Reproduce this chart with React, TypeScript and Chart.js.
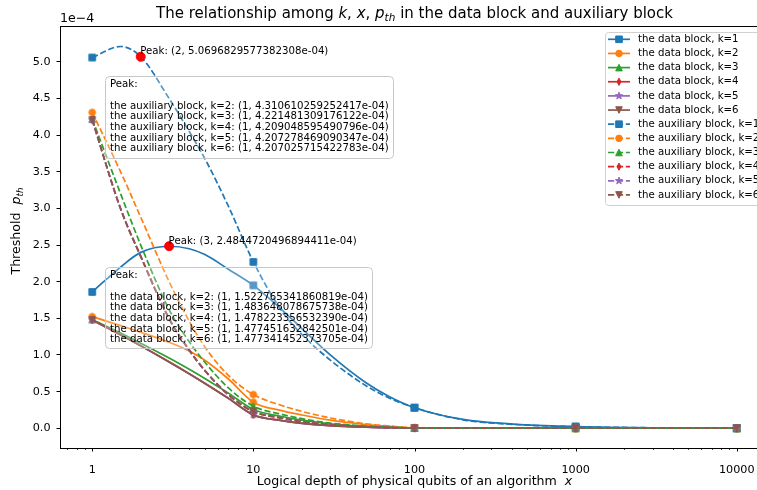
import React, { useEffect, useRef } from 'react';
import { Chart, registerables } from 'chart.js';
Chart.register(...registerables);

// ---- data (values in units of 1e-4) ----
const X = [1, 1.5, 2, 3, 4, 5, 7, 10, 15, 20, 30, 50, 70, 100, 200, 500, 1000, 3000, 10000];

const dataK1 = [1.86, 2.2, 2.4, 2.484, 2.45, 2.37, 2.17, 1.95, 1.62, 1.36, 1.0, 0.62, 0.43, 0.28, 0.12, 0.045, 0.022, 0.006, 0.001];
const dataK2 = [1.523, 1.4, 1.31, 1.173, 1.054, 0.928, 0.672, 0.355, 0.24, 0.18, 0.11, 0.05, 0.025, 0.006, 0.002, 0.0008, 0.0004, 0.0001, 0.0];
const dataK3 = [1.484, 1.299, 1.161, 0.959, 0.806, 0.68, 0.479, 0.256, 0.16, 0.11, 0.06, 0.025, 0.012, 0.003, 0.001, 0.0004, 0.0002, 0.0001, 0.0];
const dataK4 = [1.478, 1.276, 1.126, 0.906, 0.744, 0.613, 0.409, 0.184, 0.105, 0.068, 0.036, 0.014, 0.007, 0.002, 0.0008, 0.0003, 0.0001, 0.0, 0.0];
const dataK5 = [1.4775, 1.275, 1.125, 0.905, 0.743, 0.612, 0.408, 0.182, 0.104, 0.067, 0.035, 0.014, 0.007, 0.002, 0.0008, 0.0003, 0.0001, 0.0, 0.0];
const dataK6 = [1.4773, 1.274, 1.124, 0.904, 0.742, 0.611, 0.407, 0.181, 0.103, 0.066, 0.035, 0.014, 0.007, 0.002, 0.0008, 0.0003, 0.0001, 0.0, 0.0];

const auxK1 = [5.06, 5.21, 5.07, 4.5, 4.05, 3.68, 3.03, 2.27, 1.6, 1.28, 0.93, 0.58, 0.41, 0.28, 0.115, 0.043, 0.021, 0.006, 0.001];
const auxK2 = [4.311, 3.5, 2.88, 2.0, 1.46, 1.11, 0.72, 0.46, 0.31, 0.23, 0.14, 0.06, 0.03, 0.006, 0.002, 0.0008, 0.0003, 0.0001, 0.0];
const auxK3 = [4.221, 3.2, 2.5, 1.62, 1.18, 0.9, 0.55, 0.3, 0.19, 0.13, 0.07, 0.03, 0.015, 0.003, 0.001, 0.0003, 0.0001, 0.0, 0.0];
const auxK4 = [4.209, 3.0, 2.35, 1.5, 1.07, 0.79, 0.46, 0.23, 0.14, 0.09, 0.05, 0.02, 0.01, 0.002, 0.0008, 0.0002, 0.0001, 0.0, 0.0];
const auxK5 = [4.2073, 2.995, 2.345, 1.495, 1.065, 0.787, 0.457, 0.228, 0.138, 0.089, 0.049, 0.019, 0.01, 0.002, 0.0008, 0.0002, 0.0001, 0.0, 0.0];
const auxK6 = [4.207, 2.992, 2.342, 1.492, 1.062, 0.785, 0.455, 0.226, 0.137, 0.088, 0.048, 0.019, 0.009, 0.002, 0.0008, 0.0002, 0.0001, 0.0, 0.0];

const K = [1, 2, 3, 4, 5, 6];
const dataBlock = [dataK1, dataK2, dataK3, dataK4, dataK5, dataK6];
const auxBlock = [auxK1, auxK2, auxK3, auxK4, auxK5, auxK6];

const peakX = [2, 3];
const peakY = [5.0696829577382308, 2.4844720496894411];
const peakLabels = ['Peak: (2, 5.0696829577382308e-04)', 'Peak: (3, 2.4844720496894411e-04)'];

const auxPeakLines = [
  'the auxiliary block, k=2: (1, 4.310610259252417e-04)',
  'the auxiliary block, k=3: (1, 4.221481309176122e-04)',
  'the auxiliary block, k=4: (1, 4.209048595490796e-04)',
  'the auxiliary block, k=5: (1, 4.207278469090347e-04)',
  'the auxiliary block, k=6: (1, 4.207025715422783e-04)',
];
const dataPeakLines = [
  'the data block, k=2: (1, 1.522765341860819e-04)',
  'the data block, k=3: (1, 1.483648078675738e-04)',
  'the data block, k=4: (1, 1.478223356532390e-04)',
  'the data block, k=5: (1, 1.477451632842501e-04)',
  'the data block, k=6: (1, 1.477341452373705e-04)',
];

const COLORS = ['#1f77b4', '#ff7f0e', '#2ca02c', '#d62728', '#9467bd', '#8c564b'];
const MARKERS = ['s', 'o', '^', 'd', '*', 'v'];
const FONT = '"DejaVu Sans", Verdana, sans-serif';
const DASH = [6.2, 2.7];
const SMALL = 10.2;

function drawMarker(g: CanvasRenderingContext2D, kind: string, x: number, y: number, color: string) {
  const s = 3.3;
  g.save();
  g.fillStyle = color;
  g.strokeStyle = color;
  g.lineWidth = 1;
  g.setLineDash([]);
  g.beginPath();
  if (kind === 's') g.rect(x - s, y - s, 2 * s, 2 * s);
  else if (kind === 'o') g.arc(x, y, s, 0, Math.PI * 2);
  else if (kind === '^') { g.moveTo(x, y - s); g.lineTo(x + s, y + s); g.lineTo(x - s, y + s); g.closePath(); }
  else if (kind === 'v') { g.moveTo(x, y + s); g.lineTo(x + s, y - s); g.lineTo(x - s, y - s); g.closePath(); }
  else if (kind === 'd') { g.moveTo(x, y - s * 1.1); g.lineTo(x + s * 0.6, y); g.lineTo(x, y + s * 1.1); g.lineTo(x - s * 0.6, y); g.closePath(); }
  else if (kind === '*') {
    for (let i = 0; i < 10; i++) {
      const r = i % 2 === 0 ? s * 1.15 : s * 0.47;
      const a = -Math.PI / 2 + (i * Math.PI) / 5;
      const px = x + r * Math.cos(a), py = y + r * Math.sin(a);
      if (i === 0) g.moveTo(px, py); else g.lineTo(px, py);
    }
    g.closePath();
  }
  g.fill();
  g.stroke();
  g.restore();
}

function markerCanvas(kind: string, color: string) {
  const c = document.createElement('canvas');
  c.width = 14; c.height = 14;
  const g = c.getContext('2d')!;
  drawMarker(g, kind, 7, 7, color);
  return c;
}

type Seg = { t: string; i?: boolean; sub?: boolean };
function richWidth(ctx: CanvasRenderingContext2D, segs: Seg[], size: number) {
  let w = 0;
  for (const s of segs) {
    const fs = s.sub ? size * 0.7 : size;
    ctx.font = `${s.i ? 'italic ' : ''}${fs}px ${FONT}`;
    w += ctx.measureText(s.t).width;
  }
  return w;
}
function drawRich(ctx: CanvasRenderingContext2D, segs: Seg[], cx: number, baseline: number, size: number) {
  const w = richWidth(ctx, segs, size);
  let x = cx - w / 2;
  ctx.textAlign = 'left';
  ctx.textBaseline = 'alphabetic';
  for (const s of segs) {
    const fs = s.sub ? size * 0.7 : size;
    ctx.font = `${s.i ? 'italic ' : ''}${fs}px ${FONT}`;
    ctx.fillText(s.t, x, baseline + (s.sub ? size * 0.22 : 0));
    x += ctx.measureText(s.t).width;
  }
}

function roundBox(ctx: CanvasRenderingContext2D, x: number, y: number, w: number, h: number, r: number) {
  ctx.beginPath();
  ctx.moveTo(x + r, y);
  ctx.lineTo(x + w - r, y);
  ctx.arcTo(x + w, y, x + w, y + r, r);
  ctx.lineTo(x + w, y + h - r);
  ctx.arcTo(x + w, y + h, x + w - r, y + h, r);
  ctx.lineTo(x + r, y + h);
  ctx.arcTo(x, y + h, x, y + h - r, r);
  ctx.lineTo(x, y + r);
  ctx.arcTo(x, y, x + r, y, r);
  ctx.closePath();
}

const X_MIN = Math.pow(10, -0.2);
const X_MAX = Math.pow(10, 4.2);

const overlay = {
  id: 'overlay',
  afterDatasetsDraw(chart: any) {
    const ctx: CanvasRenderingContext2D = chart.ctx;
    const ca = chart.chartArea;
    const xs = chart.scales.x;
    const ys = chart.scales.y;
    ctx.save();
    ctx.setLineDash([]);
    // frame
    ctx.strokeStyle = '#000';
    ctx.lineWidth = 1;
    ctx.strokeRect(Math.round(ca.left) + 0.5, Math.round(ca.top) + 0.5, Math.round(ca.right - ca.left), Math.round(ca.bottom - ca.top));
    // x ticks (major + minor)
    for (let e = -1; e <= 4; e++) {
      for (let m = 1; m <= 9; m++) {
        const v = m * Math.pow(10, e);
        if (v < xs.min || v > xs.max) continue;
        const px = Math.round(xs.getPixelForValue(v)) + 0.5;
        ctx.lineWidth = m === 1 ? 1 : 0.7;
        ctx.beginPath();
        ctx.moveTo(px, ca.bottom);
        ctx.lineTo(px, ca.bottom + (m === 1 ? 3.5 : 2));
        ctx.stroke();
      }
    }

    // peak labels
    ctx.fillStyle = '#000';
    ctx.font = `${SMALL}px ${FONT}`;
    ctx.textAlign = 'left';
    ctx.textBaseline = 'alphabetic';
    peakX.forEach((px, i) => {
      const x = xs.getPixelForValue(px);
      const y = ys.getPixelForValue(peakY[i]);
      ctx.fillText(peakLabels[i], x - 0.5, y - 2.5);
    });

    // annotation boxes
    const boxes = [
      { x: ca.left + 45, y: ca.top + 50, w: 288, h: 82, lines: auxPeakLines },
      { x: ca.left + 45, y: ca.top + 241, w: 267, h: 81, lines: dataPeakLines },
    ];
    for (const b of boxes) {
      roundBox(ctx, b.x + 0.5, b.y + 0.5, b.w, b.h, 4);
      ctx.fillStyle = 'rgba(255,255,255,0.25)';
      ctx.fill();
      ctx.strokeStyle = '#c8c8c8';
      ctx.lineWidth = 1;
      ctx.stroke();
      ctx.fillStyle = '#000';
      ctx.font = `${SMALL}px ${FONT}`;
      ctx.textBaseline = 'middle';
      const lh = 10.7;
      const y0 = b.y + 8.5;
      ctx.fillText('Peak:', b.x + 5, y0);
      b.lines.forEach((t, j) => ctx.fillText(t, b.x + 5, y0 + (j + 2) * lh));
    }

    // legend
    const lx = 605, ly = 32, lw = 175, lh2 = 173;
    roundBox(ctx, lx + 0.5, ly + 0.5, lw, lh2, 3);
    ctx.fillStyle = 'rgba(255,255,255,0.8)';
    ctx.fill();
    ctx.strokeStyle = '#d0d0d0';
    ctx.stroke();
    const rows: { label: string; color: string; marker: string; dashed: boolean }[] = [];
    K.forEach((k, i) => rows.push({ label: `the data block, k=${k}`, color: COLORS[i], marker: MARKERS[i], dashed: false }));
    K.forEach((k, i) => rows.push({ label: `the auxiliary block, k=${k}`, color: COLORS[i], marker: MARKERS[i], dashed: true }));
    rows.forEach((r, i) => {
      const y = 39.3 + i * 14.15;
      ctx.strokeStyle = r.color;
      ctx.lineWidth = 1.7;
      ctx.setLineDash(r.dashed ? DASH : []);
      ctx.beginPath();
      ctx.moveTo(608, y);
      ctx.lineTo(630, y);
      ctx.stroke();
      ctx.setLineDash([]);
      drawMarker(ctx, r.marker, 619, y, r.color);
      ctx.fillStyle = '#000';
      ctx.font = `${SMALL}px ${FONT}`;
      ctx.textBaseline = 'middle';
      ctx.textAlign = 'left';
      ctx.fillText(r.label, 638, y);
    });
    ctx.restore();
  },
  afterDraw(chart: any) {
    const ctx: CanvasRenderingContext2D = chart.ctx;
    const ca = chart.chartArea;
    ctx.save();
    ctx.fillStyle = '#000';
    const cx = (ca.left + ca.right) / 2;
    // title
    drawRich(ctx, [
      { t: 'The relationship among ' }, { t: 'k', i: true }, { t: ', ' }, { t: 'x', i: true }, { t: ', ' },
      { t: 'p', i: true }, { t: 'th', i: true, sub: true }, { t: ' in the data block and auxiliary block' },
    ], cx, ca.top - 8, 15);
    // x label
    drawRich(ctx, [{ t: 'Logical depth of physical qubits of an algorithm  ' }, { t: 'x', i: true }], cx, 485, 12.6);
    // y label
    ctx.save();
    ctx.translate(20, (ca.top + ca.bottom) / 2 - 6);
    ctx.rotate(-Math.PI / 2);
    drawRich(ctx, [{ t: 'Threshold  ' }, { t: 'p', i: true }, { t: 'th', i: true, sub: true }], 0, 0, 12.6);
    ctx.restore();
    // offset text
    ctx.font = `12.6px ${FONT}`;
    ctx.textAlign = 'left';
    ctx.textBaseline = 'alphabetic';
    ctx.fillText('1e\u22124', ca.left, ca.top - 4);
    ctx.restore();
  },
};

export default function App() {
  const ref = useRef<HTMLCanvasElement>(null);
  useEffect(() => {
    if (!ref.current) return;
    const isDecade = (v: number) => Math.abs(Math.log10(v) - Math.round(Math.log10(v))) < 1e-9;
    const datasets: any[] = [];
    const mk = (ys: number[], i: number, dashed: boolean, label: string, order: number) => ({
      label,
      data: X.map((x, j) => ({ x, y: ys[j] })),
      borderColor: COLORS[i],
      backgroundColor: COLORS[i],
      borderWidth: 1.7,
      borderDash: dashed ? DASH : [],
      cubicInterpolationMode: 'monotone',
      pointStyle: markerCanvas(MARKERS[i], COLORS[i]),
      pointRadius: (c: any) => (c.raw && isDecade(c.raw.x) ? 4 : 0),
      pointHoverRadius: 0,
      order,
    });
    let order = 100;
    dataBlock.forEach((ys, i) => datasets.push(mk(ys, i, false, `the data block, k=${K[i]}`, order--)));
    auxBlock.forEach((ys, i) => datasets.push(mk(ys, i, true, `the auxiliary block, k=${K[i]}`, order--)));
    datasets.push({
      label: 'peaks',
      data: peakX.map((x, j) => ({ x, y: peakY[j] })),
      showLine: false,
      pointRadius: 4.5,
      pointStyle: 'circle',
      pointBackgroundColor: '#ff0000',
      pointBorderColor: '#ff0000',
      borderColor: '#ff0000',
      order: 0,
    });

    const chart = new Chart(ref.current, {
      type: 'line',
      data: { datasets },
      plugins: [overlay],
      options: {
        animation: false,
        responsive: false,
        events: [],
        layout: { autoPadding: false, padding: { top: 26, right: 11, left: 0, bottom: 0 } },
        plugins: { legend: { display: false }, tooltip: { enabled: false }, title: { display: false } },
        scales: {
          x: {
            type: 'logarithmic',
            bounds: 'data',
            min: X_MIN,
            max: X_MAX,
            grid: { display: false },
            border: { display: false },
            ticks: {
              autoSkip: false,
              maxRotation: 0,
              minRotation: 0,
              padding: 7,
              color: '#000',
              font: { family: FONT, size: 11.2 },
              callback: (v: any) => (isDecade(Number(v)) ? String(Math.round(Number(v))) : ''),
            },
            afterBuildTicks: (s: any) => { s.min = X_MIN; s.max = X_MAX; },
            afterFit: (s: any) => { s.height = 42; s.paddingLeft = 0; s.paddingRight = 0; },
          },
          y: {
            type: 'linear',
            min: -0.27,
            max: 5.49,
            grid: { display: true, drawOnChartArea: false, drawTicks: true, tickLength: 3.5, color: '#000', lineWidth: 1 },
            border: { display: false },
            ticks: {
              stepSize: 0.5,
              includeBounds: false,
              padding: 6,
              color: '#000',
              font: { family: FONT, size: 11.2 },
              callback: (v: any) => Number(v).toFixed(1),
            },
            afterFit: (s: any) => { s.width = 60; s.paddingTop = 0; s.paddingBottom = 0; },
          },
        },
      } as any,
    });
    return () => chart.destroy();
  }, []);
  return (
    <div style={{ position: 'fixed', left: 0, top: 0, width: 757, height: 490, overflow: 'hidden', background: '#fff' }}>
      <canvas ref={ref} width={780} height={490} style={{ width: 780, height: 490, display: 'block' }} />
    </div>
  );
}
